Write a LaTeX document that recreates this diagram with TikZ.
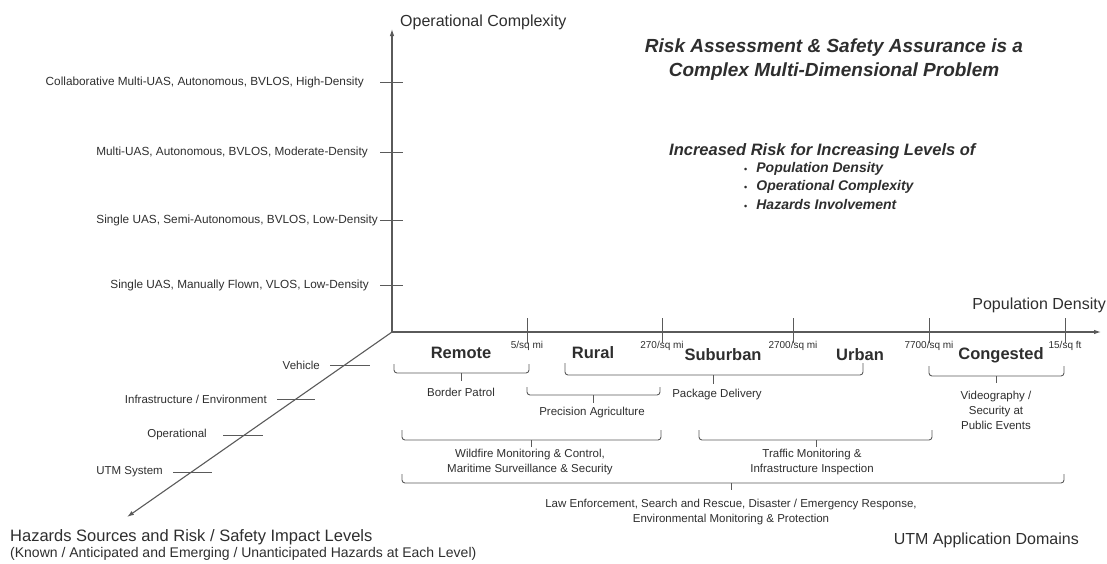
\documentclass[tikz,border=0pt]{standalone}
\usepackage{fontspec}
\setmainfont{Liberation Sans}
\usetikzlibrary{arrows.meta}
\definecolor{ink}{HTML}{2E2E2E}
\definecolor{rule}{HTML}{5A5A5A}

% bracket under a span: name, left x, right x, end y, bar y, centre x, stem length
\newcommand\spanbrk[7]{%
  \coordinate (#1-a) at (#2,#4);
  \coordinate (#1-b) at (#3,#4);
  \coordinate (#1-m) at (#6,#5);
  \coordinate (#1-s) at (#6,#5+#7);
  \draw[bracket] (#1-a) |- (#1-m) -| (#1-b);
  \draw[bracket] (#1-m) -- (#1-s);
}

\begin{document}
\begin{tikzpicture}[x=1pt,y=-1pt,
  axis/.style={draw=rule,line width=1.1pt,-{Latex[length=7pt,width=4.5pt]}},
  tick/.style={draw=rule,line width=0.9pt},
  bracket/.style={draw=rule,line width=0.9pt,rounded corners=3pt},
  lbl/.style={text=ink,inner sep=0pt},
  axtitle/.style={lbl,font=\fontsize{16}{19}\selectfont},
  small/.style={lbl,font=\fontsize{11.5}{14.5}\selectfont,align=center},
  level/.style={lbl,font=\fontsize{11.8}{14.5}\selectfont},
  tiny/.style={lbl,font=\fontsize{10}{12}\selectfont},
  zone/.style={lbl,font=\bfseries\fontsize{16.5}{19}\selectfont},
  head/.style={lbl,font=\bfseries\itshape\fontsize{19}{24.5}\selectfont,align=center},
  sub/.style={lbl,font=\bfseries\itshape\fontsize{16.5}{19}\selectfont},
  item/.style={lbl,font=\bfseries\itshape\fontsize{14}{17}\selectfont}]

\useasboundingbox (0,0) rectangle (1107,563);

% axes
\coordinate (O) at (392,332);
\coordinate (Ytop) at (392,29);
\coordinate (Xend) at (1101,332);
\coordinate (Zend) at (127,517);
\draw[axis] (O) -- (Ytop);
\draw[axis] (O) -- (Xend);
\draw[axis] (O) -- (Zend);

\node[axtitle,anchor=west] (ytitle) at (400,22) {Operational Complexity};
\node[axtitle,anchor=east] (xtitle) at (1106,305) {Population Density};
\node[axtitle,anchor=east] (dtitle) at (1079,540) {UTM Application Domains};
\node[lbl,anchor=west,font=\fontsize{16.5}{19}\selectfont] (ztitle) at (10,537)
  {Hazards Sources and Risk / Safety Impact Levels};
\node[lbl,anchor=west,font=\fontsize{14}{16}\selectfont] (zsub) at (10,554)
  {(Known / Anticipated and Emerging / Unanticipated Hazards at Each Level)};

% operational complexity levels
\foreach \n/\y/\e/\t in {
  y1/285/369/{Single UAS, Manually Flown, VLOS, Low-Density},
  y2/220/378/{Single UAS, Semi-Autonomous, BVLOS, Low-Density},
  y3/152/368/{Multi-UAS, Autonomous, BVLOS, Moderate-Density},
  y4/82/364/{Collaborative Multi-UAS, Autonomous, BVLOS, High-Density}}{
  \coordinate (\n-l) at (380,\y);
  \coordinate (\n-r) at (403,\y);
  \draw[tick] (\n-l) -- (\n-r);
  \node[level,anchor=east] (\n) at (\e,\y) {\t};
}

% hazard levels
\foreach \n/\a/\b/\y/\e/\t in {
  z1/330/370/365/320/{Vehicle},
  z2/277/315/399/267/{Infrastructure / Environment},
  z3/223/263/435/207/{Operational},
  z4/173/212/472/163/{UTM System}}{
  \coordinate (\n-l) at (\a,\y);
  \coordinate (\n-r) at (\b,\y);
  \draw[tick] (\n-l) -- (\n-r);
  \node[small,anchor=east] (\n) at (\e,\y) {\t};
}

% population density thresholds
\foreach \n/\x/\t in {x1/527/{5/sq mi},x2/662/{270/sq mi},x3/793/{2700/sq mi},
                      x4/929/{7700/sq mi},x5/1065/{15/sq ft}}{
  \coordinate (\n-t) at (\x,318);
  \coordinate (\n-b) at (\x,343);
  \draw[tick] (\n-t) -- (\n-b);
  \node[tiny] (\n) at (\x,346) {\t};
}

% density classes
\node[zone] (remote) at (461,353) {Remote};
\node[zone] (rural) at (593,353) {Rural};
\node[zone] (suburban) at (723,355) {Suburban};
\node[zone] (urban) at (860,355) {Urban};
\node[zone] (congested) at (1001,355) {Congested};

% application domains
\spanbrk{bp}{394}{529}{364}{373}{461}{8}
\node[small] (border) at (461,392) {Border Patrol};

\spanbrk{pd}{565}{863}{363}{375}{713}{9}
\node[small] (package) at (717,395) {Package Delivery};

\spanbrk{pa}{527}{660}{387}{395}{593}{8}
\node[small] (precision) at (592,413) {Precision Agriculture};

\spanbrk{vs}{929}{1064}{366}{376}{996}{7}
\node[small,font=\fontsize{11.5}{15}\selectfont] (video) at (996,410) {Videography /\\Security at\\Public Events};

\spanbrk{wf}{402}{661}{430}{440}{531}{7}
\node[small] (wildfire) at (530,462) {Wildfire Monitoring \& Control,\\Maritime Surveillance \& Security};

\spanbrk{tm}{699}{932}{430}{440}{816}{7}
\node[small] (traffic) at (812,462) {Traffic Monitoring \&\\Infrastructure Inspection};

\spanbrk{le}{402}{1064}{474}{483}{731}{7}
\node[small] (law) at (731,512) {Law Enforcement, Search and Rescue, Disaster / Emergency Response,\\Environmental Monitoring \& Protection};

% statement
\node[head] (title) at (834,59.5) {Risk Assessment \& Safety Assurance is a\\Complex Multi-Dimensional Problem};
\node[sub,anchor=west] (incr) at (669,151) {Increased Risk for Increasing Levels of};
\foreach \n/\y/\t in {b1/169/{Population Density},b2/187/{Operational Complexity},b3/204/{Hazards Involvement}}{
  \node[item,anchor=west] (\n) at (744,\y)
    {{\upshape\fontsize{9}{10}\selectfont\textbullet}\hspace{9pt}\t};
}
\end{tikzpicture}
\end{document}
